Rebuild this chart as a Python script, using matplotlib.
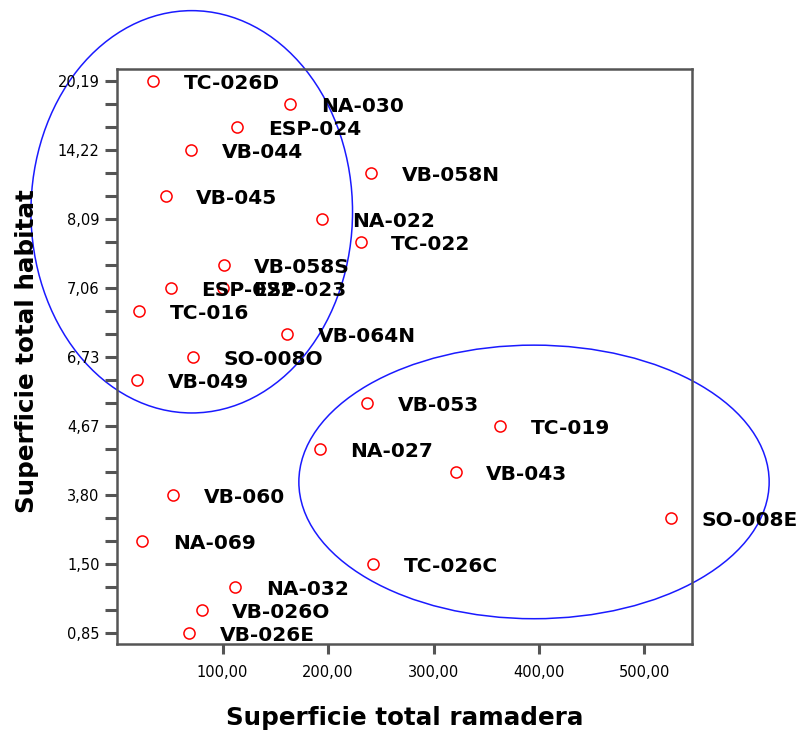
import matplotlib
matplotlib.use("Agg")
import matplotlib.pyplot as plt
from matplotlib.patches import Ellipse

# sites, superficie total ramadera (x) and rank of superficie total habitat (y, ordinal axis)
sites = ["TC-026D", "NA-030", "ESP-024", "VB-044", "VB-058N", "VB-045", "NA-022",
         "TC-022", "VB-058S", "ESP-022", "ESP-023", "TC-016", "VB-064N", "SO-008O",
         "VB-049", "VB-053", "TC-019", "NA-027", "VB-043", "VB-060", "SO-008E",
         "NA-069", "TC-026C", "NA-032", "VB-026O", "VB-026E"]
ramadera = [34, 164, 114, 70, 241, 46, 194, 231, 101, 51, 100, 21, 161, 72,
            19, 237, 363, 192, 321, 53, 525, 24, 243, 112, 80, 68]
habitat_rank = [24, 23, 22, 21, 20, 19, 18, 17, 16, 15, 15, 14, 13, 12,
                11, 10, 9, 8, 7, 6, 5, 4, 3, 2, 1, 0]

ytick_ranks = [0, 3, 6, 9, 12, 15, 18, 21, 24]
ytick_labels = ["0,85", "1,50", "3,80", "4,67", "6,73", "7,06", "8,09", "14,22", "20,19"]
xticks = [100, 200, 300, 400, 500]

# groups circled by hand (centre x, centre rank, width, height)
groups = [(70.7, 18.3, 305, 17.5), (395.3, 6.55, 446, 11.9)]

fig = plt.figure(figsize=(8.02, 7.33), dpi=100)
ax = fig.add_axes([0.1461, 0.1214, 0.7171, 0.7841])

ax.plot(ramadera, habitat_rank, linestyle="none", marker="o", markersize=8,
        markerfacecolor="none", markeredgecolor="#ff0000", markeredgewidth=1.1)

for name, x, y in zip(sites, ramadera, habitat_rank):
    ax.annotate(name, (x, y), xytext=(22, -2), textcoords="offset points",
                ha="left", va="center", fontsize=14.5, fontweight="bold",
                family="DejaVu Sans", color="black", annotation_clip=False)

for cx, cy, w, h in groups:
    ax.add_patch(Ellipse((cx, cy), w, h, fill=False, edgecolor="#1a1aff",
                         linewidth=1.1, clip_on=False))

ax.set_xlim(0, 545.4)
ax.set_ylim(-0.5, 24.5)

ax.set_xticks(xticks)
ax.set_xticklabels([f"{v},00" for v in xticks])
ax.set_yticks(ytick_ranks)
ax.set_yticklabels(ytick_labels)
ax.set_yticks(range(25), minor=True)

ax.tick_params(axis="both", which="both", direction="out", color="#555555",
               width=2.2, labelsize=10.5, labelcolor="black")
ax.tick_params(axis="y", which="both", length=8.5, pad=4)
ax.tick_params(axis="x", which="major", length=7, pad=8)

for sp in ax.spines.values():
    sp.set_color("#555555")
    sp.set_linewidth(1.8)

ax.set_xlabel("Superficie total ramadera", fontsize=17.7, fontweight="bold")
ax.xaxis.set_label_coords(0.5, -0.129)
ax.xaxis.label.set_verticalalignment("center")
ax.set_ylabel("Superficie total habitat", fontsize=17.7, fontweight="bold")
ax.yaxis.set_label_coords(-0.157, 0.51)
ax.yaxis.label.set_verticalalignment("center")

plt.savefig("out.png", dpi=100)
plt.close(fig)
